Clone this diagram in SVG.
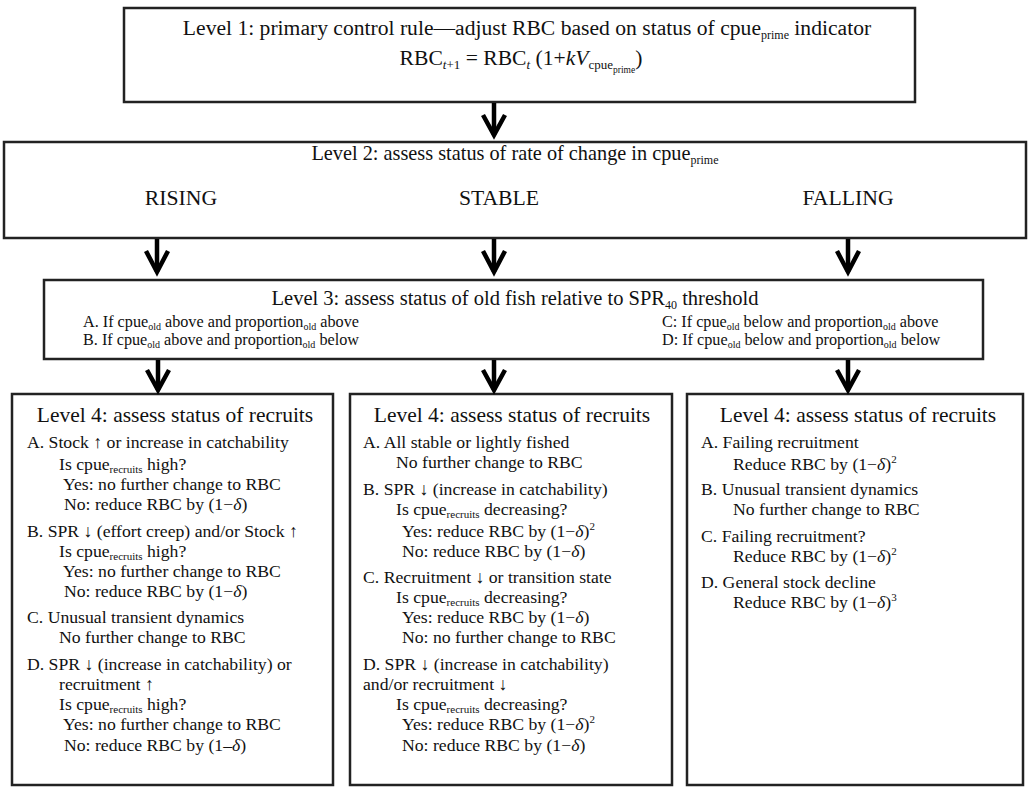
<svg xmlns="http://www.w3.org/2000/svg" width="1030" height="788" viewBox="0 0 1030 788">
<style>
text{font-family:"Liberation Serif","Times New Roman",serif;fill:#111}
.box{fill:#fff;stroke:#222;stroke-width:2.5}
.t1{font-size:21.6px}
.t2{font-size:20.3px}
.t2b{font-size:21.7px}
.t3{font-size:20.5px}
.s3{font-size:16.2px}
.h4{font-size:21.5px}
.b4{font-size:17.7px}
.conn{stroke:#000;stroke-width:4.5;fill:none}
.head{stroke:#000;stroke-width:4.5;fill:none;stroke-linejoin:miter;stroke-linecap:butt}
</style>
<rect width="1030" height="788" fill="#fff"/>
<g id="level1">
<rect class="box" x="124" y="8" width="791" height="94"/>
<text class="t1" x="527" y="35" text-anchor="middle">Level 1: primary control rule—adjust RBC based on status of cpue<tspan font-size="12px" dy="4">prime</tspan><tspan dy="-4"> indicator</tspan></text>
<text class="t1" x="521" y="65" text-anchor="middle">RBC<tspan font-size="13px" dy="4" font-style="italic">t</tspan><tspan font-size="13px">+1</tspan><tspan dy="-4"> = RBC</tspan><tspan font-size="13px" dy="4" font-style="italic">t</tspan><tspan dy="-4"> (1+</tspan><tspan font-style="italic">kV</tspan><tspan font-size="13px" dy="4">cpue</tspan><tspan font-size="9.5px" dy="4">prime</tspan><tspan dy="-8">)</tspan></text>
</g>
<g id="level2">
<rect class="box" x="4" y="142" width="1022" height="96"/>
<text class="t2" x="515" y="160" text-anchor="middle">Level 2: assess status of rate of change in cpue<tspan font-size="12px" dy="4">prime</tspan></text>
<text class="t2b" x="181" y="205" text-anchor="middle">RISING</text>
<text class="t2b" x="499" y="205" text-anchor="middle">STABLE</text>
<text class="t2b" x="848" y="205" text-anchor="middle">FALLING</text>
</g>
<g id="level3">
<rect class="box" x="44" y="280" width="939" height="79"/>
<text class="t3" x="515" y="305" text-anchor="middle">Level 3: assess status of old fish relative to SPR<tspan font-size="12px" dy="4">40</tspan><tspan dy="-4"> threshold</tspan></text>
<text class="s3" x="83" y="327">A. If cpue<tspan font-size="10px" dy="3">old</tspan><tspan dy="-3"> above and proportion</tspan><tspan font-size="10px" dy="3">old</tspan><tspan dy="-3"> above</tspan></text>
<text class="s3" x="83" y="345">B. If cpue<tspan font-size="10px" dy="3">old</tspan><tspan dy="-3"> above and proportion</tspan><tspan font-size="10px" dy="3">old</tspan><tspan dy="-3"> below</tspan></text>
<text class="s3" x="662" y="327">C: If cpue<tspan font-size="10px" dy="3">old</tspan><tspan dy="-3"> below and proportion</tspan><tspan font-size="10px" dy="3">old</tspan><tspan dy="-3"> above</tspan></text>
<text class="s3" x="662" y="345">D: If cpue<tspan font-size="10px" dy="3">old</tspan><tspan dy="-3"> below and proportion</tspan><tspan font-size="10px" dy="3">old</tspan><tspan dy="-3"> below</tspan></text>
</g>
<g id="level4-rising">
<rect class="box" x="12" y="394" width="321" height="391"/>
<text class="h4" x="175" y="422" text-anchor="middle">Level 4: assess status of recruits</text>
<g class="b4">
<text x="27" y="448">A. Stock ↑ or increase in catchability</text>
<text x="59" y="470">Is cpue<tspan font-size="11px" dy="3">recruits</tspan><tspan dy="-3"> high?</tspan></text>
<text x="63" y="490">Yes: no further change to RBC</text>
<text x="64" y="510">No: reduce RBC by (1−<tspan font-style="italic">δ</tspan>)</text>
<text x="27" y="537">B. SPR ↓ (effort creep) and/or Stock ↑</text>
<text x="59" y="557">Is cpue<tspan font-size="11px" dy="3">recruits</tspan><tspan dy="-3"> high?</tspan></text>
<text x="63" y="577">Yes: no further change to RBC</text>
<text x="64" y="597">No: reduce RBC by (1−<tspan font-style="italic">δ</tspan>)</text>
<text x="27" y="623">C. Unusual transient dynamics</text>
<text x="59" y="643">No further change to RBC</text>
<text x="27" y="670">D. SPR ↓ (increase in catchability) or</text>
<text x="59" y="690">recruitment ↑</text>
<text x="59" y="710">Is cpue<tspan font-size="11px" dy="3">recruits</tspan><tspan dy="-3"> high?</tspan></text>
<text x="63" y="730">Yes: no further change to RBC</text>
<text x="64" y="751">No: reduce RBC by (1–<tspan font-style="italic">δ</tspan>)</text>
</g>
</g>
<g id="level4-stable">
<rect class="box" x="350" y="394" width="322" height="391"/>
<text class="h4" x="512" y="422" text-anchor="middle">Level 4: assess status of recruits</text>
<g class="b4">
<text x="363" y="448">A. All stable or lightly fished</text>
<text x="396" y="468">No further change to RBC</text>
<text x="363" y="495">B. SPR ↓ (increase in catchability)</text>
<text x="396" y="515">Is cpue<tspan font-size="11px" dy="3">recruits</tspan><tspan dy="-3"> decreasing?</tspan></text>
<text x="402" y="537">Yes: reduce RBC by (1−<tspan font-style="italic">δ</tspan>)<tspan font-size="11px" dy="-7">2</tspan></text>
<text x="402" y="557">No: reduce RBC by (1−<tspan font-style="italic">δ</tspan>)</text>
<text x="363" y="583">C. Recruitment ↓ or transition state</text>
<text x="396" y="603">Is cpue<tspan font-size="11px" dy="3">recruits</tspan><tspan dy="-3"> decreasing?</tspan></text>
<text x="402" y="623">Yes: reduce RBC by (1−<tspan font-style="italic">δ</tspan>)</text>
<text x="402" y="643">No: no further change to RBC</text>
<text x="363" y="670">D. SPR ↓ (increase in catchability)</text>
<text x="363" y="690">and/or recruitment ↓</text>
<text x="396" y="710">Is cpue<tspan font-size="11px" dy="3">recruits</tspan><tspan dy="-3"> decreasing?</tspan></text>
<text x="402" y="730">Yes: reduce RBC by (1−<tspan font-style="italic">δ</tspan>)<tspan font-size="11px" dy="-7">2</tspan></text>
<text x="402" y="751">No: reduce RBC by (1−<tspan font-style="italic">δ</tspan>)</text>
</g>
</g>
<g id="level4-falling">
<rect class="box" x="687" y="394" width="336" height="391"/>
<text class="h4" x="858" y="422" text-anchor="middle">Level 4: assess status of recruits</text>
<g class="b4">
<text x="701" y="448">A. Failing recruitment</text>
<text x="733" y="470">Reduce RBC by (1−<tspan font-style="italic">δ</tspan>)<tspan font-size="11px" dy="-7">2</tspan></text>
<text x="701" y="495">B. Unusual transient dynamics</text>
<text x="733" y="515">No further change to RBC</text>
<text x="701" y="542">C. Failing recruitment?</text>
<text x="733" y="562">Reduce RBC by (1−<tspan font-style="italic">δ</tspan>)<tspan font-size="11px" dy="-7">2</tspan></text>
<text x="701" y="588">D. General stock decline</text>
<text x="733" y="608">Reduce RBC by (1−<tspan font-style="italic">δ</tspan>)<tspan font-size="11px" dy="-7">3</tspan></text>
</g>
</g>
<g id="connectors">
<path class="conn" d="M494 103V135"/><path class="head" d="M483 115L494 135L505 115"/>
<path class="conn" d="M157 239V272"/><path class="head" d="M146 251L157 272L168 251"/>
<path class="conn" d="M494 239V272"/><path class="head" d="M483 251L494 272L505 251"/>
<path class="conn" d="M848 239V272"/><path class="head" d="M837 251L848 272L859 251"/>
<path class="conn" d="M158 360V390"/><path class="head" d="M147 370L158 390L169 370"/>
<path class="conn" d="M494 360V390"/><path class="head" d="M483 370L494 390L505 370"/>
<path class="conn" d="M848 360V390"/><path class="head" d="M837 370L848 390L859 370"/>
</g>
</svg>
